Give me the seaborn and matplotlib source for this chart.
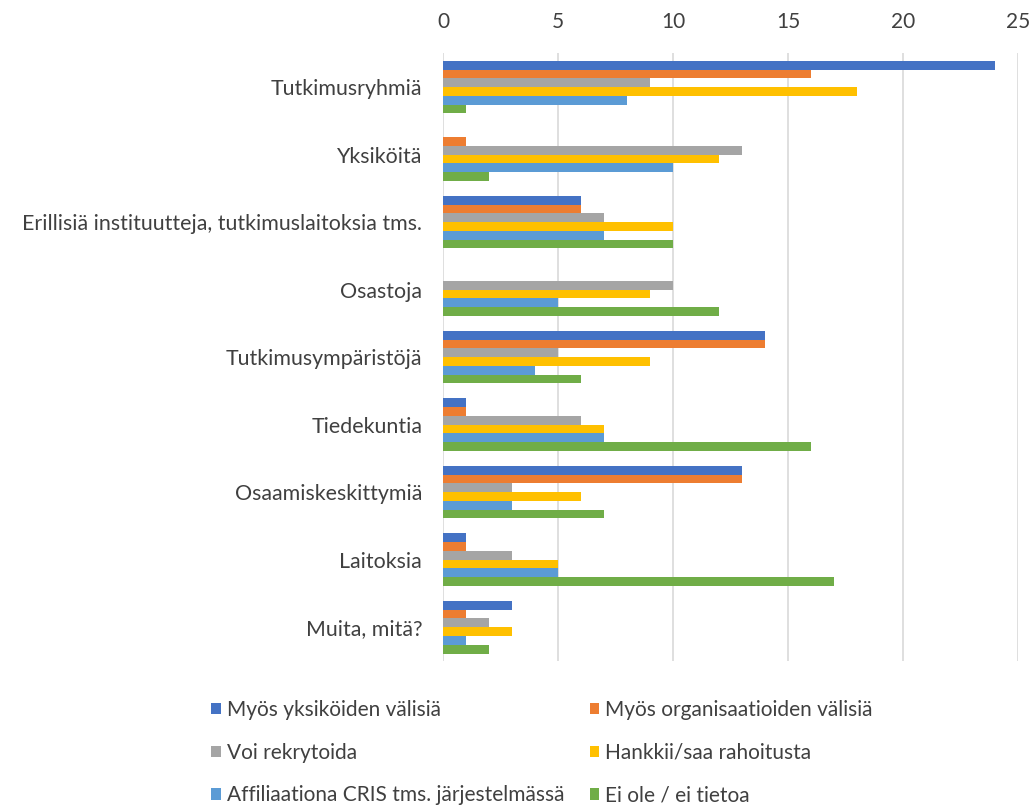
import numpy as np
import pandas as pd
import seaborn as sns
import matplotlib.pyplot as plt

categories = ["Tutkimusryhmiä", "Yksiköitä", "Erillisiä instituutteja, tutkimuslaitoksia tms.",
              "Osastoja", "Tutkimusympäristöjä", "Tiedekuntia", "Osaamiskeskittymiä",
              "Laitoksia", "Muita, mitä?"]
series = ["Myös yksiköiden välisiä", "Myös organisaatioiden välisiä", "Voi rekrytoida",
          "Hankkii/saa rahoitusta", "Affiliaationa CRIS tms. järjestelmässä", "Ei ole / ei tietoa"]
yksikoiden = [24, 0, 6, 0, 14, 1, 13, 1, 3]
organisaatioiden = [16, 1, 6, 0, 14, 1, 13, 1, 1]
rekrytoida = [9, 13, 7, 10, 5, 6, 3, 3, 2]
rahoitus = [18, 12, 10, 9, 9, 7, 6, 5, 3]
affiliaatio = [8, 10, 7, 5, 4, 7, 3, 5, 1]
ei_tietoa = [1, 2, 10, 12, 6, 16, 7, 17, 2]
colors = ["#4472C4", "#ED7D31", "#A5A5A5", "#FFC000", "#5B9BD5", "#70AD47"]

values = [yksikoiden, organisaatioiden, rekrytoida, rahoitus, affiliaatio, ei_tietoa]
rows = []
for s, vals in zip(series, values):
    for c, v in zip(categories, vals):
        rows.append({"kategoria": c, "sarja": s, "arvo": v})
df = pd.DataFrame(rows)

sns.set_style("white")
plt.rcParams['font.family'] = ['Lato', 'DejaVu Sans']

fig = plt.figure(figsize=(10.31, 8.08), dpi=100)
ax = fig.add_axes([0.4297, 0.182, 0.5576, 0.752])
sns.barplot(data=df, x="arvo", y="kategoria", hue="sarja", orient="h",
            order=categories, hue_order=series, palette=colors, saturation=1,
            width=0.78, linewidth=0, ax=ax, legend=True)

ax.set_xlim(0, 25)
ax.set_xticks(range(0, 26, 5))
ax.xaxis.tick_top()
ax.tick_params(axis='x', labelsize=15, colors='#404040', length=0, pad=15)
ax.tick_params(axis='y', labelsize=15.4, colors='#404040', length=0, pad=15)
ax.grid(axis='x', color='#D9D9D9', linewidth=1.2)
ax.set_axisbelow(True)
for sp in ax.spines.values():
    sp.set_visible(False)
ax.set_xlabel("")
ax.set_ylabel("")

# legend rows go left to right like in the original
handles, labels = ax.get_legend_handles_labels()
ax.get_legend().remove()
order = [0, 2, 4, 1, 3, 5]
fig.legend([handles[i] for i in order], [labels[i] for i in order], ncol=2,
           loc='upper left', bbox_to_anchor=(0.195, 0.147),
           frameon=False, fontsize=15, labelcolor='#404040',
           handlelength=0.45, handleheight=0.45, handletextpad=0.3,
           columnspacing=1.2, labelspacing=1.1, borderpad=0)

fig.savefig("out.png", dpi=100)
